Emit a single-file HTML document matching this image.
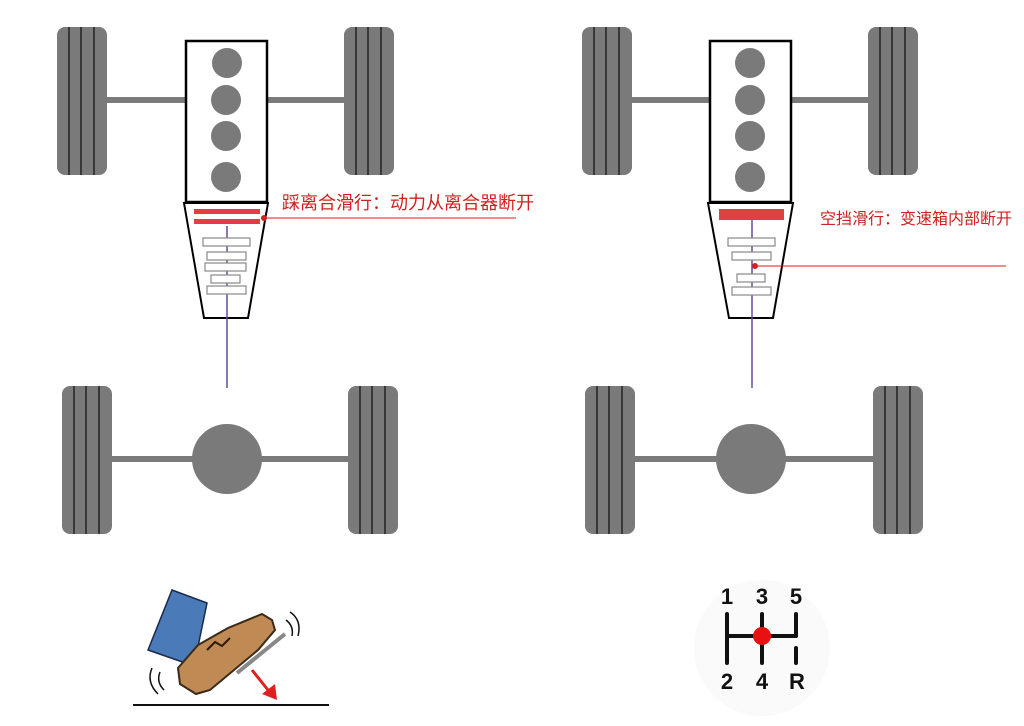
<!DOCTYPE html>
<html><head><meta charset="utf-8"><style>
html,body{margin:0;padding:0;background:#fff}
svg{display:block}
text{font-family:"Liberation Sans","Noto Sans CJK SC",sans-serif}
</style></head><body>
<svg width="1024" height="726" viewBox="0 0 1024 726" xmlns="http://www.w3.org/2000/svg">
<defs>
<g id="tire">
<rect x="0" y="0" width="50" height="148" rx="8" fill="#7a7a7a"/>
<line x1="12" y1="0" x2="12" y2="148" stroke="#222" stroke-width="1.5"/>
<line x1="24" y1="0" x2="24" y2="148" stroke="#222" stroke-width="1.5"/>
<line x1="37" y1="0" x2="37" y2="148" stroke="#222" stroke-width="1.5"/>
</g>
</defs>

<!-- LEFT CAR -->
<rect x="105" y="97" width="245" height="6" fill="#7a7a7a"/>
<use href="#tire" x="57" y="27"/>
<use href="#tire" x="344" y="27"/>
<rect x="186" y="41" width="81" height="161" fill="#fff" stroke="#000" stroke-width="2.5"/>
<circle cx="227" cy="63" r="15" fill="#7a7a7a"/>
<circle cx="226" cy="100" r="15" fill="#7a7a7a"/>
<circle cx="226" cy="136" r="15" fill="#7a7a7a"/>
<circle cx="226" cy="177" r="15" fill="#7a7a7a"/>
<polygon points="184,203 268,203 248,318 204,318" fill="#fff" stroke="#000" stroke-width="2"/>
<line x1="227" y1="226" x2="227" y2="388" stroke="#6a4a9a" stroke-width="1.5"/>
<rect x="194" y="209" width="66" height="5" fill="#e04040"/>
<rect x="194" y="219" width="66" height="5" fill="#e04040"/>
<g fill="#fff" stroke="#888" stroke-width="1.2">
<rect x="203" y="238" width="47" height="8"/>
<rect x="207" y="252" width="39" height="8"/>
<rect x="205" y="263" width="41" height="8"/>
<rect x="211" y="275" width="29" height="8"/>
<rect x="207" y="286" width="39" height="8"/>
</g>
<circle cx="264" cy="218" r="3" fill="#d02020"/>
<line x1="264" y1="218" x2="516" y2="218" stroke="#d02020" stroke-width="1"/>
<text x="282" y="209" font-size="18" fill="#d02020">踩离合滑行：动力从离合器断开</text>
<rect x="108" y="456" width="245" height="6" fill="#7a7a7a"/>
<use href="#tire" x="62" y="386"/>
<use href="#tire" x="348" y="386"/>
<circle cx="227" cy="459" r="35" fill="#7a7a7a"/>

<!-- RIGHT CAR -->
<rect x="630" y="97" width="245" height="6" fill="#7a7a7a"/>
<use href="#tire" x="582" y="27"/>
<use href="#tire" x="868" y="27"/>
<rect x="710" y="41" width="81" height="161" fill="#fff" stroke="#000" stroke-width="2.5"/>
<circle cx="750" cy="63" r="15" fill="#7a7a7a"/>
<circle cx="750" cy="100" r="15" fill="#7a7a7a"/>
<circle cx="750" cy="136" r="15" fill="#7a7a7a"/>
<circle cx="750" cy="177" r="15" fill="#7a7a7a"/>
<polygon points="708,203 793,203 773,318 729,318" fill="#fff" stroke="#000" stroke-width="2"/>
<line x1="752" y1="220" x2="752" y2="388" stroke="#6a4a9a" stroke-width="1.5"/>
<rect x="719" y="209" width="65" height="11" fill="#e04040"/>
<g fill="#fff" stroke="#888" stroke-width="1.2">
<rect x="728" y="238" width="47" height="8"/>
<rect x="732" y="252" width="39" height="8"/>
<rect x="737" y="274" width="28" height="8"/>
<rect x="732" y="287" width="39" height="8"/>
</g>
<circle cx="755" cy="266" r="3" fill="#d02020"/>
<line x1="755" y1="266" x2="1006" y2="266" stroke="#d02020" stroke-width="1"/>
<text x="820" y="224" font-size="16" fill="#d02020">空挡滑行：变速箱内部断开</text>
<rect x="633" y="456" width="245" height="6" fill="#7a7a7a"/>
<use href="#tire" x="585" y="386"/>
<use href="#tire" x="873" y="386"/>
<circle cx="751" cy="459" r="35" fill="#7a7a7a"/>

<!-- SHIFTER -->
<circle cx="762" cy="648" r="68" fill="#fafafa"/>
<g stroke="#111" stroke-width="4" stroke-linecap="round">
<line x1="727" y1="614" x2="727" y2="663"/>
<line x1="762" y1="614" x2="762" y2="663"/>
<line x1="796" y1="614" x2="796" y2="636"/>
<line x1="727" y1="636" x2="796" y2="636"/>
<line x1="796" y1="648" x2="796" y2="663"/>
</g>
<circle cx="762" cy="636" r="9" fill="#e81010"/>
<g font-size="22" font-weight="bold" fill="#111" text-anchor="middle">
<text x="727" y="604">1</text><text x="762" y="604">3</text><text x="796" y="604">5</text>
<text x="727" y="689">2</text><text x="762" y="689">4</text><text x="797" y="689">R</text>
</g>

<!-- PEDAL -->
<line x1="133" y1="705" x2="329" y2="705" stroke="#111" stroke-width="2"/>
<polygon points="172,590 207,603 194,666 148,650" fill="#4a7ab8" stroke="#1a2a4a" stroke-width="1.5"/>
<polygon points="178,668 198,645 228,628 262,614 272,620 275,630 258,650 210,690 196,694 180,684" fill="#c08a55" stroke="#3a2a1a" stroke-width="2"/>
<polyline points="207,650 215,642 222,646 230,638" fill="none" stroke="#2a1a0a" stroke-width="2"/>
<line x1="237" y1="673" x2="285" y2="634" stroke="#888" stroke-width="4"/>
<line x1="252" y1="670" x2="268" y2="690" stroke="#e02020" stroke-width="3"/>
<polygon points="262,694 277,700 275,684" fill="#e02020"/>
<g fill="none" stroke="#111" stroke-width="1.5">
<path d="M290,612 q12,8 8,24"/><path d="M286,620 q8,6 6,16"/>
<path d="M152,668 q-6,14 6,26"/><path d="M160,672 q-4,10 4,18"/>
</g>
</svg>
</body></html>
